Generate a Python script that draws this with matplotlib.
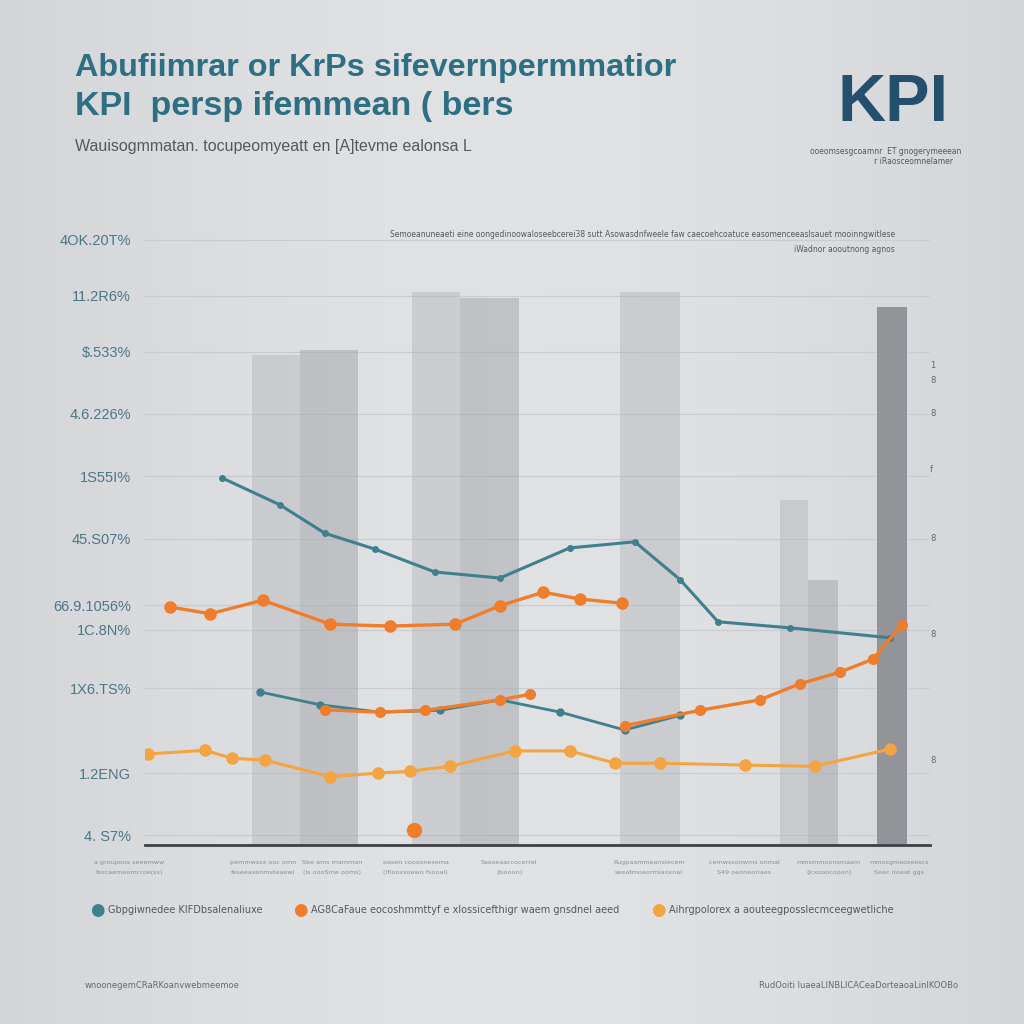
import numpy as np
import matplotlib
matplotlib.use("Agg")
import matplotlib.pyplot as plt

# ---------------- data ----------------
ytick_pos = [98.4, 89.3, 80.2, 70.1, 60.0, 49.8, 39.0, 35.0, 25.5, 11.7, 1.6]
ytick_labels = ["4OK.20T%", "11.2R6%", "$.533%", "4.6.226%", "1S55I%", "45.S07%",
                "66.9.1056%", "1C.8N%", "1X6.TS%", "1.2ENG", "4. S7%"]

bar_x = [1.67, 2.34, 3.71, 4.39, 6.43, 8.27, 8.64, 9.52]
bar_w = [0.61, 0.74, 0.61, 0.76, 0.76, 0.36, 0.38, 0.38]
bar_h = [79.7, 80.5, 89.9, 88.9, 89.9, 56.1, 43.1, 87.5]
bar_dark = [False, True, False, True, False, False, True, True]

teal1_x = [0.98, 1.72, 2.29, 2.93, 3.69, 4.52, 5.41, 6.24, 6.82, 7.30, 8.22, 9.49]
teal1_y = [59.7, 55.3, 50.7, 48.1, 44.4, 43.4, 48.3, 49.3, 43.1, 36.3, 35.3, 33.7]

orange1_x = [0.32, 0.83, 1.50, 2.36, 3.12, 3.95, 4.52, 5.07, 5.54, 6.08]
orange1_y = [38.7, 37.6, 39.8, 35.9, 35.6, 35.9, 38.9, 41.1, 40.0, 39.3]

teal2_x = [1.46, 2.23, 2.99, 3.76, 4.52, 5.29, 6.11, 6.82]
teal2_y = [24.9, 22.8, 21.6, 21.9, 23.6, 21.6, 18.7, 21.1]

orange2_x = [2.29, 2.99, 3.57, 4.52, 4.90]
orange2_y = [22.0, 21.6, 21.9, 23.6, 24.5]

orange3_x = [6.11, 7.07, 7.83, 8.34, 8.85, 9.27, 9.64]
orange3_y = [19.4, 21.9, 23.6, 26.2, 28.1, 30.2, 35.8]

lorange_x = [0.04, 0.76, 1.11, 1.53, 2.36, 2.97, 3.38, 3.89, 4.71, 5.41, 5.99, 6.56, 7.64, 8.53, 9.49]
lorange_y = [14.8, 15.4, 14.1, 13.8, 11.1, 11.7, 12.0, 12.8, 15.3, 15.3, 13.3, 13.3, 13.0, 12.8, 15.6]

xcat_pos = [-0.2, 1.50, 2.38, 3.45, 4.64, 6.42, 7.63, 8.71, 9.61]
xcat_l1 = ["a groupoos seeemww", "pemmwssx ooc omn", "Sbe ams mamman", "easen cooosnesema",
           "Sasoeaaccocerrel", "Rugpaammeansiecem", "cemwssoowms onmal", "mmsmmoonsmaam", "mmosgmaoxeescs"]
xcat_l2 = ["foscaemeomrcoe(ss)", "feseeaxenmsteaewl", "(ls oooSme ooms)", "(iflooxxoewo fsooal)", "(lsooon)",
           "seeatmoeormiaoxnal", "S49 oeoneoriaes", "(icxooocooon)", "Seec iroeat ggs"]

legend_labels = ["Gbpgiwnedee KIFDbsalenaliuxe",
                 "AG8CaFaue eocoshmmttyf e xlossicefthigr waem gnsdnel aeed",
                 "Aihrgpolorex a aouteegposslecmceegwetliche"]

teal = "#3f7f8e"
orange = "#ef7d2c"
lorange = "#f4a441"
tickc = "#4d7684"

# ---------------- figure ----------------
fig = plt.figure(figsize=(10.24, 10.24), dpi=100)
fig.patch.set_facecolor("#dcdee1")

bg = fig.add_axes([0, 0, 1, 1], zorder=-10)
gx = np.linspace(0, 1, 256)
grad = np.outer(np.ones(256), 0.5 + 0.5 * np.sin(np.pi * gx))
bg.imshow(grad, cmap=matplotlib.colors.LinearSegmentedColormap.from_list("g", ["#d3d5d8", "#e1e2e4"]),
          aspect="auto", extent=[0, 1, 0, 1])
bg.axis("off")

ax = fig.add_axes([145 / 1024, 1 - 845 / 1024, 785 / 1024, 615 / 1024])
ax.set_facecolor("none")
ax.set_xlim(0, 10)
ax.set_ylim(0, 100)

for yp in ytick_pos:
    ax.axhline(yp, color="#c9ccd0", lw=0.9, zorder=0)

for x, w, h, d in zip(bar_x, bar_w, bar_h, bar_dark):
    if x > 9:
        col, a = "#8e9095", 0.95
    else:
        col, a = ("#a6a8ac", 0.55) if d else ("#b0b2b6", 0.42)
    ax.bar(x, h, width=w, color=col, alpha=a, zorder=1, linewidth=0)

ax.plot(teal1_x, teal1_y, color=teal, lw=2.2, marker="o", ms=4, zorder=4)
ax.plot(teal2_x, teal2_y, color=teal, lw=2.0, marker="o", ms=5, zorder=4)
ax.plot(orange1_x, orange1_y, color=orange, lw=2.4, marker="o", ms=8, zorder=5)
ax.plot(orange2_x, orange2_y, color=orange, lw=2.4, marker="o", ms=7, zorder=5)
ax.plot(orange3_x, orange3_y, color=orange, lw=2.4, marker="o", ms=7, zorder=5)
ax.plot(lorange_x, lorange_y, color=lorange, lw=2.2, marker="o", ms=8, zorder=5)
ax.plot([3.43], [2.4], "o", color=orange, ms=10, zorder=5)
ax.plot([-0.15], [17.0], "o", color=orange, ms=5, zorder=5)

for s in ["top", "right", "left"]:
    ax.spines[s].set_visible(False)
ax.spines["bottom"].set_color("#3d4045")
ax.spines["bottom"].set_linewidth(2)
ax.set_yticks(ytick_pos)
ax.set_yticklabels(ytick_labels, color=tickc, fontsize=10.5, family="Liberation Sans")
ax.tick_params(axis="y", length=0, pad=10)
ax.set_xticks([])

for yp, t in zip([77.9, 75.6, 70.1, 61.1, 49.8, 34.3, 13.8],
                 ["1", "8", "8", "f", "8", "8", "8"]):
    ax.text(10.0, yp, t, fontsize=6, color="#666", ha="left", va="center")

for xp, a, b in zip(xcat_pos, xcat_l1, xcat_l2):
    ax.text(xp, -2.4, a, fontsize=4.6, color="#8a8d92", ha="center", va="top")
    ax.text(xp, -4.1, b, fontsize=4.6, color="#8a8d92", ha="center", va="top")

ax.text(9.55, 99.2, "Semoeanuneaeti eine oongedinoowaloseebcerei38 sutt Asowasdnfweele faw caecoehcoatuce easomenceeaslsauet mooinngwitlese",
        fontsize=5.5, color="#55585c", ha="right", va="center")
ax.text(9.55, 96.8, "iWadnor aooutnong agnos", fontsize=5.5, color="#55585c", ha="right", va="center")

fig.text(75 / 1024, 1 - 68 / 1024, "Abufiimrar or KrPs sifevernpermmatior", fontsize=23.3,
         fontweight="bold", color="#2f6f84", family="Liberation Sans", va="center")
fig.text(75 / 1024, 1 - 107 / 1024, "KPI  persp ifemmean ( bers", fontsize=24.5,
         fontweight="bold", color="#2f6f84", family="Liberation Sans", va="center")
fig.text(75 / 1024, 1 - 147 / 1024, "Wauisogmmatan. tocupeomyeatt en [A]tevme ealonsa L", fontsize=11.5,
         color="#55585c", family="Liberation Sans", va="center")

fig.text(893 / 1024, 1 - 104 / 1024, "KPI", fontsize=48, fontweight="bold", color="#24506d",
         family="Liberation Sans", ha="center", va="center")
fig.text(886 / 1024, 1 - 152 / 1024, "ooeomsesgcoamnr  ET gnogerymeeean", fontsize=5.5,
         color="#55585c", ha="center", va="center")
fig.text(913 / 1024, 1 - 161 / 1024, "r iRaosceomnelamer", fontsize=5.5,
         color="#55585c", ha="center", va="center")

leg_x = [97, 300, 658]
leg_c = [teal, orange, lorange]
for lx, lc, lt in zip(leg_x, leg_c, legend_labels):
    fig.text(lx / 1024, 1 - 910 / 1024, "\u25CF", color=lc, fontsize=12, ha="center", va="center")
    fig.text((lx + 11) / 1024, 1 - 910 / 1024, lt, color="#55585c", fontsize=7, ha="left", va="center")

fig.text(85 / 1024, 1 - 986 / 1024, "wnoonegemCRaRKoanvwebmeemoe", fontsize=6, color="#66696d", va="center")
fig.text(958 / 1024, 1 - 986 / 1024, "RudOoiti luaeaLINBLICACeaDorteaoaLinlKOOBo", fontsize=6,
         color="#66696d", va="center", ha="right")

fig.savefig("out.png", dpi=100, facecolor=fig.get_facecolor())
